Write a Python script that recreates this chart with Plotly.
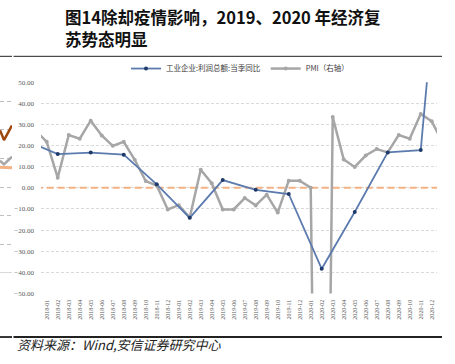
import plotly.graph_objects as go

# ---------------- data ----------------
months = ["2017-11", "2017-12"] + [f"{y}-{m:02d}" for y in (2018, 2019, 2020) for m in range(1, 13)] + ["2021-01", "2021-02"]
tick_labels = [f"{y}-{m:02d}" for y in (2018, 2019, 2020) for m in range(1, 13)]

profit_months = ["2017-11", "2018-02", "2018-05", "2018-08", "2018-11", "2019-02", "2019-05",
                 "2019-08", "2019-11", "2020-02", "2020-05", "2020-08", "2020-11", "2021-02"]
profit_values = [22.7, 16.0, 16.7, 15.7, 1.7, -14.2, 3.7, -0.9, -2.9, -38.3, -11.4, 16.8, 17.9, 190.0]

pmi_months = months[1:-1]
pmi_values = [27.0,
              21.8, 4.8, 25.0, 23.3, 31.8, 24.8, 19.9, 21.8, 13.3, 3.2, 1.1, -10.2,
              -8.2, -14.0, 8.6, 2.2, -10.2, -10.2, -4.8, -8.3, -3.2, -11.7, 3.4, 3.4,
              0.1, -400.0, 33.5, 13.4, 9.9, 15.3, 18.4, 16.8, 25.0, 23.3, 35.0, 31.5,
              21.5]

zero_values = [0] * len(months)

# fragment of the neighbouring (cropped) chart at the far left
frag_x = [0, 4, 12]
frag_brown = [49.8, 46.4, 51.5]
frag_gray = [39.2, 37.9, 40.6]
frag_orange = [36.9, 36.8, 36.7]

W, H = 455, 364
def px(x):
    return x / W
def py(y):
    return 1 - y / H

fig = go.Figure()

fig.add_trace(go.Scatter(x=months, y=zero_values, mode="lines",
                         line=dict(color="#F4B183", width=2, dash="7px,4px"),
                         showlegend=False, hoverinfo="skip"))
fig.add_trace(go.Scatter(x=pmi_months, y=pmi_values, mode="lines+markers", name="PMI（右轴）",
                         line=dict(color="#A6A6A6", width=2.5),
                         marker=dict(color="#A6A6A6", size=4), legendrank=2))
fig.add_trace(go.Scatter(x=profit_months, y=profit_values, mode="lines+markers",
                         name="工业企业:利润总额:当季同比",
                         line=dict(color="#5B7BAE", width=1.8),
                         marker=dict(color="#1F3A68", size=4), legendrank=1))

# cropped neighbour chart
fig.add_trace(go.Scatter(x=frag_x, y=frag_brown, mode="lines", xaxis="x2", yaxis="y2",
                         line=dict(color="#9E480E", width=2.5), showlegend=False, hoverinfo="skip"))
fig.add_trace(go.Scatter(x=frag_x, y=frag_gray, mode="lines", xaxis="x2", yaxis="y2",
                         line=dict(color="#A6A6A6", width=2.5), showlegend=False, hoverinfo="skip"))
fig.add_trace(go.Scatter(x=frag_x, y=frag_orange, mode="lines", xaxis="x2", yaxis="y2",
                         line=dict(color="#F4B183", width=3), showlegend=False, hoverinfo="skip"))

fig.update_layout(
    width=W, height=H,
    margin=dict(l=0, r=0, t=0, b=0),
    paper_bgcolor="white", plot_bgcolor="white",
    showlegend=True,
    legend=dict(orientation="h", x=px(126), y=py(66), xanchor="left", yanchor="middle",
                font=dict(family="Noto Sans CJK SC", size=7.5, color="#404040"),
                itemwidth=30, bgcolor="rgba(0,0,0,0)"),
    xaxis=dict(domain=[px(41), px(437)], type="category", categoryorder="array",
               categoryarray=months, range=[1.48, 37.48],
               tickmode="array", tickvals=tick_labels, ticktext=tick_labels,
               tickangle=-90, showgrid=False, showline=False, zeroline=False,
               tickfont=dict(family="Liberation Serif", size=6, color="#595959"),
               ticklabelstandoff=4),
    yaxis=dict(domain=[py(296), py(80)], range=[-50, 50], dtick=10, tickformat=".2f",
               showgrid=True, gridcolor="#D9D9D9", griddash="3px,2px", gridwidth=1,
               zeroline=False, showline=False,
               tickfont=dict(family="Liberation Serif", size=7, color="#595959"),
               ticklabelstandoff=6),
    xaxis2=dict(domain=[0, px(12)], range=[0, 12], showgrid=False, showticklabels=False,
                zeroline=False, showline=False, anchor="y2"),
    yaxis2=dict(domain=[py(296), py(80)], range=[-7.2, 66.6], dtick=10, anchor="x2",
                showgrid=True, gridcolor="#BFBFBF", griddash="4px,3px",
                zeroline=True, zerolinecolor="#D9D9D9", zerolinewidth=1,
                showticklabels=False, showline=False),
)

# title
fig.add_annotation(text="<b>图14除却疫情影响，2019、2020 年经济复</b>", x=px(63), y=py(13.5),
                   xref="paper", yref="paper", xanchor="left", yanchor="middle", showarrow=False,
                   font=dict(family="Noto Sans CJK SC", size=16.5, color="#111111"))
fig.add_annotation(text="<b>苏势态明显</b>", x=px(63), y=py(35.5),
                   xref="paper", yref="paper", xanchor="left", yanchor="middle", showarrow=False,
                   font=dict(family="Noto Sans CJK SC", size=16.5, color="#111111"))
# source
fig.add_annotation(text="资料来源：Wind,安信证券研究中心", x=px(15), y=py(348),
                   xref="paper", yref="paper", xanchor="left", yanchor="middle", showarrow=False,
                   font=dict(family="Noto Sans CJK SC", size=13, color="#222222", style="italic"))

# separator rules
for y0, w in ((53.5, 1), (340.5, 1.8)):
    fig.add_shape(type="line", xref="paper", yref="paper", x0=0, x1=px(12), y0=py(y0), y1=py(y0),
                  line=dict(color="#222222", width=w))
    fig.add_shape(type="line", xref="paper", yref="paper", x0=px(13.5), x1=px(442), y0=py(y0), y1=py(y0),
                  line=dict(color="#222222", width=w))

fig.write_html("out.html", config={"displayModeBar": False},
               post_script="document.body.style.margin='0';document.body.style.overflow='hidden';")
